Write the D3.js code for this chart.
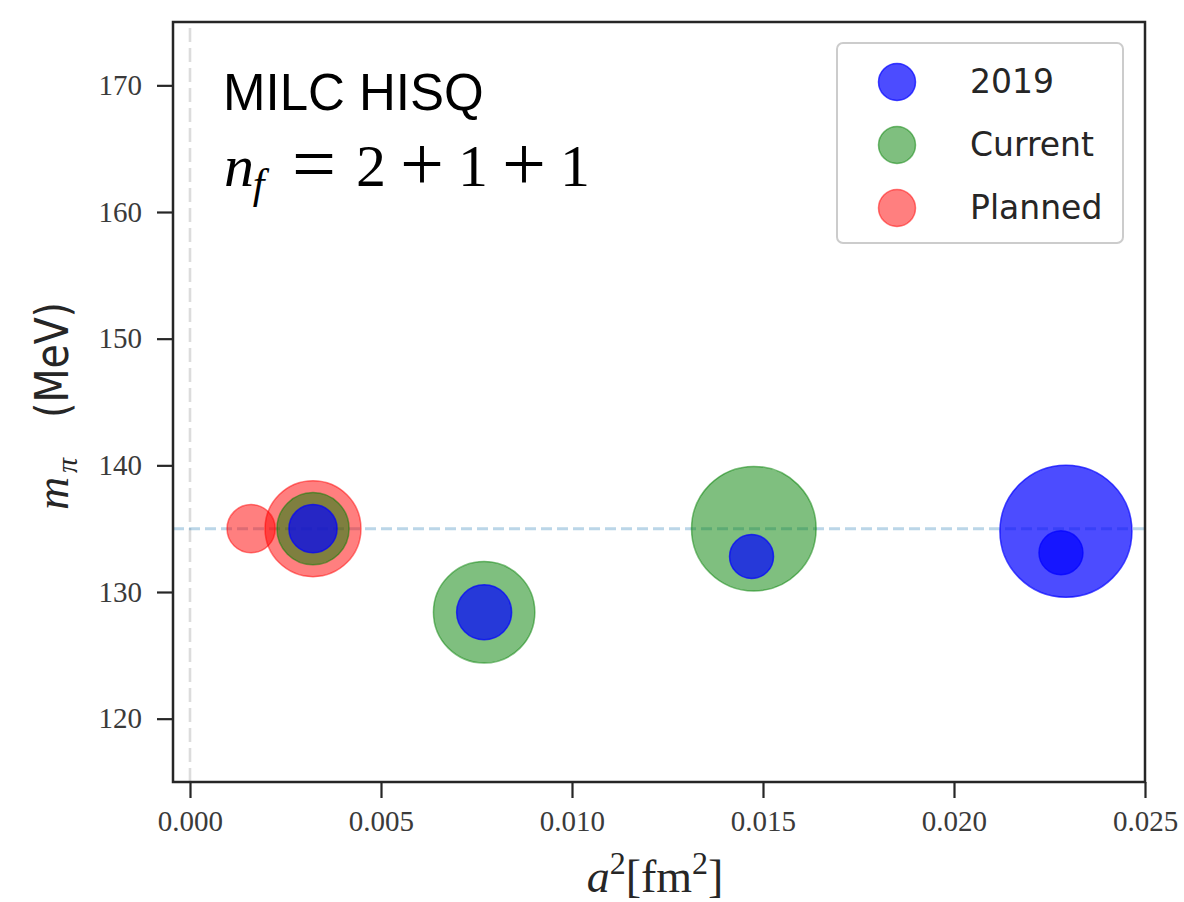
<!DOCTYPE html>
<html>
<head>
<meta charset="utf-8">
<script src="https://cdn.jsdelivr.net/npm/d3@7"></script>
<style>
  html, body { margin: 0; padding: 0; background: #fff; }
  svg { display: block; }
</style>
</head>
<body>
<svg id="chart" width="1184" height="902"></svg>
<script>
// ---- data ----
const seriesNames = ["2019", "Current", "Planned"];
const seriesColors = ["#0000ff", "#008000", "#ff0000"];
const seriesAlpha = [0.7, 0.5, 0.5];

// a^2 [fm^2], m_pi [MeV], bubble size (area units)
const planned_a2 = [0.0016, 0.00322];
const planned_mpi = [135.0, 135.0];
const planned_size = [580, 2300];

const current_a2 = [0.00322, 0.0077, 0.01476];
const current_mpi = [135.0, 128.4, 135.0];
const current_size = [1300, 2570, 3880];

const y2019_a2 = [0.00322, 0.0077, 0.0147, 0.0228, 0.02293];
const y2019_mpi = [135.0, 128.4, 132.8, 133.1, 134.8];
const y2019_size = [580, 756, 484, 484, 4356];

const xTicks = [0.000, 0.005, 0.010, 0.015, 0.020, 0.025];
const yTicks = [120, 130, 140, 150, 160, 170];
const physicalMpi = 135;

// ---- layout ----
const svg = d3.select("#chart");
const W = 1184, H = 902;
const margin = { left: 173, right: W - 1145, top: 22, bottom: H - 782 };

const x = d3.scaleLinear().domain([-0.000445, 0.025]).range([margin.left, W - margin.right]);
const y = d3.scaleLinear().domain([115, 175]).range([H - margin.bottom, margin.top]);
const r = d3.scaleSqrt().domain([0, 4356]).range([0, 66]);

svg.append("defs").append("clipPath").attr("id", "clip")
  .append("rect")
  .attr("x", margin.left).attr("y", margin.top)
  .attr("width", W - margin.right - margin.left)
  .attr("height", H - margin.bottom - margin.top);

const plot = svg.append("g").attr("clip-path", "url(#clip)");

// reference lines
plot.append("line")
  .attr("x1", x(0)).attr("x2", x(0))
  .attr("y1", y(115)).attr("y2", y(175))
  .attr("stroke", "#dcdcdc").attr("stroke-width", 2.6)
  .attr("stroke-dasharray", "14,6");

plot.append("line")
  .attr("x1", x.range()[0]).attr("x2", x.range()[1])
  .attr("y1", y(physicalMpi)).attr("y2", y(physicalMpi))
  .attr("stroke", "#1f77b4").attr("stroke-opacity", 0.3).attr("stroke-width", 3)
  .attr("stroke-dasharray", "11,5");

// bubbles: planned, current, 2019 (drawn in that order)
const layers = [
  { xs: planned_a2, ys: planned_mpi, ss: planned_size, i: 2 },
  { xs: current_a2, ys: current_mpi, ss: current_size, i: 1 },
  { xs: y2019_a2, ys: y2019_mpi, ss: y2019_size, i: 0 }
];
layers.forEach(L => {
  const pts = L.xs.map((v, k) => ({ a2: v, m: L.ys[k], s: L.ss[k] }));
  plot.append("g").selectAll("circle").data(pts).join("circle")
    .attr("cx", d => x(d.a2))
    .attr("cy", d => y(d.m))
    .attr("r", d => r(d.s))
    .attr("fill", seriesColors[L.i])
    .attr("fill-opacity", seriesAlpha[L.i])
    .attr("stroke", seriesColors[L.i])
    .attr("stroke-opacity", seriesAlpha[L.i])
    .attr("stroke-width", 1.5);
});

// axes
const tickFont = "'Liberation Serif', 'DejaVu Serif', serif";
const xAxis = d3.axisBottom(x).tickValues(xTicks).tickFormat(d3.format(".3f")).tickSize(16).tickPadding(12);
const yAxis = d3.axisLeft(y).tickValues(yTicks).tickSize(16).tickPadding(15);

const gx = svg.append("g").attr("transform", `translate(0,${H - margin.bottom})`).call(xAxis);
const gy = svg.append("g").attr("transform", `translate(${margin.left},0)`).call(yAxis);
[gx, gy].forEach(g => {
  g.select(".domain").remove();
  g.selectAll(".tick line").attr("stroke", "#262626").attr("stroke-width", 2.2);
  g.selectAll(".tick text").attr("fill", "#3a3a3a").style("font-family", tickFont).style("font-size", "29px");
});

// frame
svg.append("rect")
  .attr("x", margin.left).attr("y", margin.top)
  .attr("width", W - margin.right - margin.left)
  .attr("height", H - margin.bottom - margin.top)
  .attr("fill", "none").attr("stroke", "#262626").attr("stroke-width", 2.5);

// annotations
svg.append("text")
  .attr("x", 223).attr("y", 110)
  .style("font-family", "'Liberation Sans', Arial, sans-serif")
  .style("font-size", "51px").attr("fill", "#000")
  .text("MILC HISQ");

// n_f = 2 + 1 + 1 laid out with TeX-like math spacing (em units)
const nfSize = 60, nfX = 224, nfY = 186;
const nfFont = "'Liberation Serif', 'DejaVu Serif', serif";
const nf = svg.append("g").style("font-family", nfFont).attr("fill", "#000");
nf.append("text").attr("x", nfX).attr("y", nfY).style("font-size", nfSize + "px")
  .style("font-style", "italic").text("n");
nf.append("text").attr("x", nfX + 0.48 * nfSize).attr("y", nfY + 0.2 * nfSize)
  .style("font-size", (0.7 * nfSize) + "px").style("font-style", "italic").text("f");
const nfParts = [["=", 1.5], ["2", 2.45], ["+", 3.3], ["1", 4.15], ["+", 5.0], ["1", 5.85]];
nfParts.forEach(([t, c]) => {
  const isOp = (t === "=" || t === "+");
  nf.append("text").attr("x", nfX + c * nfSize).attr("y", nfY + (isOp ? 4 : 0))
    .attr("text-anchor", "middle").style("font-size", (isOp ? 1.3 * nfSize : nfSize) + "px")
    .text(t);
});

// legend
const lg = svg.append("g");
lg.append("rect")
  .attr("x", 837).attr("y", 43).attr("width", 286).attr("height", 200)
  .attr("rx", 6).attr("fill", "#fff").attr("fill-opacity", 0.8)
  .attr("stroke", "#cccccc").attr("stroke-width", 2);
seriesNames.forEach((name, i) => {
  const cy = 82 + i * 63;
  lg.append("circle").attr("cx", 897).attr("cy", cy).attr("r", 18.5)
    .attr("fill", seriesColors[i]).attr("fill-opacity", seriesAlpha[i])
    .attr("stroke", seriesColors[i]).attr("stroke-opacity", seriesAlpha[i])
    .attr("stroke-width", 1.5);
  lg.append("text").attr("x", 970).attr("y", cy + 11)
    .style("font-family", "'DejaVu Sans', sans-serif").style("font-size", "33px")
    .attr("fill", "#262626").text(name);
});

// axis labels
const xl = svg.append("text")
  .attr("x", 655).attr("y", 892).attr("text-anchor", "middle")
  .style("font-family", "'Liberation Serif', 'DejaVu Serif', serif")
  .style("font-size", "46px").attr("fill", "#262626");
xl.append("tspan").style("font-style", "italic").text("a");
xl.append("tspan").attr("dy", -18).style("font-size", "32px").text("2");
xl.append("tspan").attr("dy", 18).text("[fm");
xl.append("tspan").attr("dy", -18).style("font-size", "32px").text("2");
xl.append("tspan").attr("dy", 18).text("]");

// y label: m_pi (MeV), rotated
const ylg = svg.append("g").attr("transform", "translate(68,0) rotate(-90)");
ylg.append("text").attr("x", -510).attr("y", 0)
  .style("font-family", "'Liberation Serif', serif").style("font-style", "italic")
  .style("font-size", "46px").attr("fill", "#262626").text("m");
ylg.append("text").attr("x", -473).attr("y", 9)
  .style("font-family", "'Liberation Serif', serif").style("font-style", "italic")
  .style("font-size", "30px").attr("fill", "#262626").text("π");
ylg.append("text").attr("x", -418).attr("y", 0)
  .attr("textLength", 116).attr("lengthAdjust", "spacingAndGlyphs")
  .style("font-family", "'DejaVu Sans', sans-serif")
  .style("font-size", "46px").attr("fill", "#262626").text("(MeV)");
</script>
</body>
</html>
